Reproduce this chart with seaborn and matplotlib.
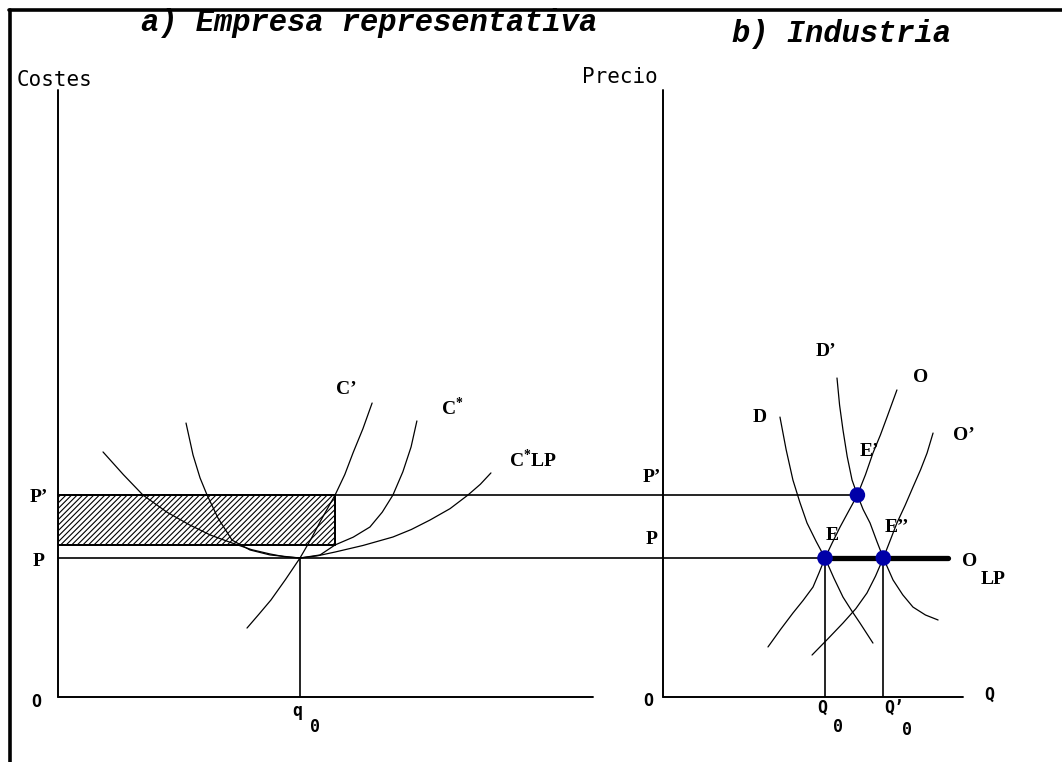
import matplotlib
matplotlib.use("Agg")
import matplotlib.pyplot as plt
import seaborn as sns
from matplotlib.lines import Line2D

# ---- panel a: representative firm (output q, cost) ----
q0 = 10.0            # q0
q1 = 11.45           # output where C' meets P'
p_lo = 10.0          # P
p_hi = 14.53         # P'
ac_q1 = 10.94        # average cost at q1 (bottom of the profit box)

cmg_q = [7.81, 8.30, 8.80, 9.40, 10.0, 10.45, 10.87, 11.45, 11.85, 12.2, 12.6, 12.98]
cmg_c = [4.96, 5.95, 6.98, 8.45, 10.0, 11.35, 12.73, 14.53, 16.0, 17.6, 19.3, 21.15]

cme_q = [5.29, 5.58, 5.87, 6.16, 6.61, 7.19, 7.93, 8.76, 10.0, 10.83, 11.45,
         12.2, 12.89, 13.4, 13.84, 14.25, 14.59, 14.83]
cme_c = [19.71, 17.41, 15.76, 14.53, 12.88, 11.29, 10.58, 10.22, 10.0, 10.22, 10.94,
         11.5, 12.23, 13.3, 14.53, 16.2, 17.99, 19.86]

clp_q = [1.86, 2.7, 3.51, 4.5, 5.45, 6.3, 7.19, 8.0, 8.76, 9.4, 10.0, 10.7, 11.45,
         12.6, 13.84, 14.6, 15.37, 16.2, 16.94, 17.45, 17.89]
clp_c = [17.63, 16.0, 14.53, 13.3, 12.37, 11.65, 11.08, 10.6, 10.29, 10.08, 10.0,
         10.15, 10.43, 10.9, 11.51, 12.05, 12.73, 13.55, 14.53, 15.3, 16.12]

# ---- panel b: industry (Q, price) ----
d_q = [7.22, 7.6, 8.02, 8.45, 8.89, 9.45, 10.0, 10.55, 11.11, 11.65, 12.16, 12.56, 12.96]
d_p = [20.14, 17.8, 15.61, 14.0, 12.52, 11.2, 10.0, 8.55, 7.19, 6.2, 5.32, 4.6, 3.88]

d2_q = [10.74, 10.9, 11.11, 11.37, 11.67, 12.0, 12.35, 12.78, 13.2, 13.6, 14.2,
        14.8, 15.43, 16.2, 16.98]
d2_p = [22.95, 21.0, 19.21, 17.3, 15.61, 14.53, 13.5, 12.52, 11.2, 10.0, 8.42,
        7.35, 6.47, 5.9, 5.54]

o_q = [6.48, 7.25, 8.02, 8.65, 9.26, 9.62, 10.0, 10.45, 10.93, 11.45, 12.0, 12.5,
       12.96, 13.42, 13.83, 14.44]
o_p = [3.6, 4.85, 6.04, 6.95, 7.91, 8.9, 10.0, 11.1, 12.23, 13.35, 14.53, 16.0,
       17.55, 18.85, 20.14, 22.09]

o2_q = [9.2, 10.15, 11.11, 11.9, 12.59, 13.12, 13.6, 14.02, 14.44, 14.95, 15.43,
        15.9, 16.3, 16.67]
o2_p = [3.02, 4.15, 5.32, 6.35, 7.48, 8.7, 10.0, 11.25, 12.52, 13.8, 15.1,
        16.35, 17.55, 18.99]

eq_q = [10.0, 12.0, 13.6]      # E, E', E''
eq_p = [10.0, 14.53, 10.0]
Q0 = 10.0
Q0b = 13.6
olp_q = [10.0, 17.6]
olp_p = [10.0, 10.0]

sns.set_theme(style="white")
plt.rcParams["font.family"] = ["DejaVu Sans"]
plt.rcParams["hatch.linewidth"] = 0.8
plt.rcParams["mathtext.fontset"] = "custom"
plt.rcParams["mathtext.rm"] = "Liberation Serif:bold"

W, H = 1062, 762
fig = plt.figure(figsize=(W / 100, H / 100), dpi=100)
fig.patch.set_facecolor("white")

ymax = 607 / 13.9
ax_a = fig.add_axes([58 / W, 65 / H, 605 / W, 607 / H])
ax_b = fig.add_axes([663 / W, 65 / H, 399 / W, 607 / H])
ax_a.set_xlim(0, 605 / 24.2)
ax_b.set_xlim(0, 399 / 16.2)
for ax in (ax_a, ax_b):
    ax.set_ylim(0, ymax)
    ax.axis("off")
    ax.patch.set_alpha(0)

# frame (top and left only)
fig.add_artist(Line2D([9 / W, 1], [1 - 9.5 / H] * 2, color="black", lw=2.6))
fig.add_artist(Line2D([9.5 / W] * 2, [0, 1 - 9.5 / H], color="black", lw=2.6))

k = "black"
# axes lines
ax_a.plot([0, 0], [0, ymax], color=k, lw=1.4, clip_on=False)
ax_a.plot([0, 22.1], [0, 0], color=k, lw=1.4, clip_on=False)
ax_b.plot([0, 0], [0, ymax], color=k, lw=1.4, clip_on=False)
ax_b.plot([0, 18.5], [0, 0], color=k, lw=1.4, clip_on=False)

# price lines running across both panels
xa_end = ax_a.get_xlim()[1]
for pv, qe in [(p_lo, eq_q[0]), (p_hi, eq_q[1])]:
    ax_a.plot([0, xa_end], [pv, pv], color=k, lw=1.2, clip_on=False)
    ax_b.plot([0, qe], [pv, pv], color=k, lw=1.2, clip_on=False)

# profit box
ax_a.fill_between([0, q1], ac_q1, p_hi, facecolor="none", edgecolor=k,
                  hatch="//////", lw=1.4)
ax_a.plot([0, q1, q1, 0], [ac_q1, ac_q1, p_hi, p_hi], color=k, lw=1.4)
ax_a.plot([q0, q0], [0, p_lo], color=k, lw=1.2)

for xs, ys in [(cmg_q, cmg_c), (cme_q, cme_c), (clp_q, clp_c)]:
    sns.lineplot(x=xs, y=ys, sort=False, estimator=None, color=k, lw=0.9, ax=ax_a)

for xs, ys in [(d_q, d_p), (d2_q, d2_p), (o_q, o_p), (o2_q, o2_p)]:
    sns.lineplot(x=xs, y=ys, sort=False, estimator=None, color=k, lw=0.9, ax=ax_b)

ax_b.plot([Q0, Q0], [0, p_lo], color=k, lw=1.2)
ax_b.plot([Q0b, Q0b], [0, p_lo], color=k, lw=1.2)
sns.lineplot(x=olp_q, y=olp_p, color=k, lw=3.8, ax=ax_b)
sns.scatterplot(x=eq_q, y=eq_p, color="#0000a8", s=125, marker="o",
                edgecolor="none", ax=ax_b, zorder=5)

# ---- texts ----
serif = dict(family="Liberation Serif", weight="bold", size=14, color=k,
             ha="center", va="center")
mono = dict(family="DejaVu Sans Mono", weight="bold", size=12, color=k,
            ha="center", va="center")
plain = dict(family="DejaVu Sans Mono", size=15, color=k, ha="center", va="center")
title = dict(family="Liberation Mono", weight="bold", style="italic", size=22,
             color=k, ha="center", va="center")


def pix(x, y):
    return x / W, 1 - y / H


fig.text(*pix(369, 23), "a) Empresa representativa", **title)
fig.text(*pix(842, 34), "b) Industria", **title)
fig.text(*pix(55, 80), "Costes", **plain)
fig.text(*pix(620, 77), "Precio", **plain)

fig.text(*pix(39, 497), "P\u2019", **serif)
fig.text(*pix(39, 562), "P", **serif)
fig.text(*pix(36, 702), "O", **mono)
fig.text(*pix(297, 711), "q", **mono)
fig.text(*pix(315, 727), "0", **mono)
fig.text(*pix(346, 389), "C\u2019", **serif)
fig.text(*pix(452, 408), "C$^{*}$", **serif)
fig.text(*pix(533, 460), "C$^{*}$LP", **serif)

fig.text(*pix(652, 477), "P\u2019", **serif)
fig.text(*pix(652, 540), "P", **serif)
fig.text(*pix(648, 701), "O", **mono)
fig.text(*pix(989, 695), "Q", **mono)
fig.text(*pix(822, 708), "Q", **mono)
fig.text(*pix(838, 727), "0", **mono)
fig.text(*pix(894, 708), "Q\u2019", **mono)
fig.text(*pix(907, 730), "0", **mono)
fig.text(*pix(760, 418), "D", **serif)
fig.text(*pix(826, 352), "D\u2019", **serif)
fig.text(*pix(921, 377), "O", **serif)
fig.text(*pix(964, 435), "O\u2019", **serif)
fig.text(*pix(869, 452), "E\u2019", **serif)
fig.text(*pix(832, 535), "E", **serif)
fig.text(*pix(897, 528), "E\u2019\u2019", **serif)
fig.text(*pix(970, 562), "O", **serif)
fig.text(*pix(993, 580), "LP", **serif)

fig.savefig("out.png", dpi=100)
